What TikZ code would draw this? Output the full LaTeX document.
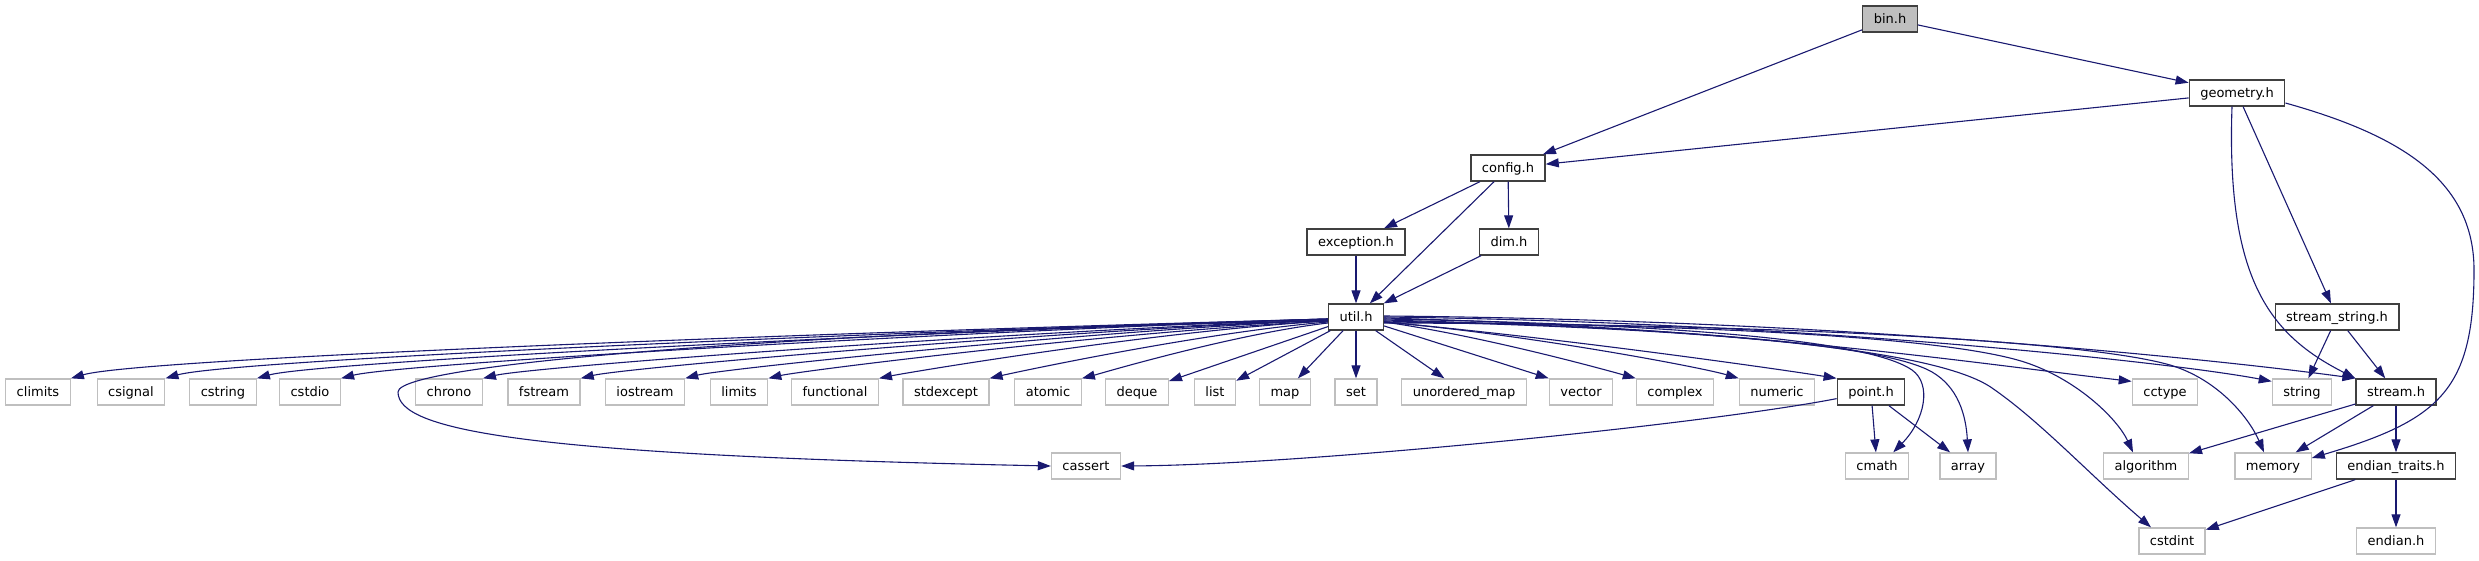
\documentclass[tikz,border=0pt]{standalone}
\usepackage{fontspec}
\setmainfont{DejaVu Sans}
\usetikzlibrary{arrows.meta}
\definecolor{edgeblue}{HTML}{191970}
\definecolor{boxgray}{HTML}{BFBFBF}
\definecolor{boxdark}{HTML}{404040}

\begin{document}
\begin{tikzpicture}[x=1pt, y=1pt, font=\fontsize{13}{15}\selectfont,
    file/.style={draw=boxdark, line width=1.3pt, fill=white, minimum height=26pt,
                 inner xsep=11pt, inner ysep=0pt, text height=11pt, text depth=2.6pt},
    sysfile/.style={file, draw=boxgray},
    edge/.style={draw=edgeblue, line width=1.1pt, -{Triangle[length=13pt,width=9pt]}}]
    \useasboundingbox (0,0) rectangle (2479,560);

    % project headers
    \node[file, fill=boxgray] (bin) at (1890,541) {bin.h};
    \node[file] (geometry) at (2237,467) {geometry.h};
    \node[file] (config) at (1508,392) {config.h};
    \node[file] (exception) at (1356,318) {exception.h};
    \node[file] (dim) at (1509,318) {dim.h};
    \node[file] (util) at (1356,243) {util.h};
    \node[file] (sstring) at (2337,243) {stream\_string.h};
    \node[file] (point) at (1871,168) {point.h};
    \node[file] (stream) at (2396,168) {stream.h};
    \node[file] (etraits) at (2396,94) {endian\_traits.h};

    % system headers
    \node[sysfile] (climits) at (38,168) {climits};
    \node[sysfile] (csignal) at (131,168) {csignal};
    \node[sysfile] (cstring) at (223,168) {cstring};
    \node[sysfile] (cstdio) at (310,168) {cstdio};
    \node[sysfile] (chrono) at (449,168) {chrono};
    \node[sysfile] (fstream) at (544,168) {fstream};
    \node[sysfile] (iostream) at (645,168) {iostream};
    \node[sysfile] (limits) at (739,168) {limits};
    \node[sysfile] (functional) at (835,168) {functional};
    \node[sysfile] (stdexcept) at (946,168) {stdexcept};
    \node[sysfile] (atomic) at (1048,168) {atomic};
    \node[sysfile] (deque) at (1137,168) {deque};
    \node[sysfile] (list) at (1215,168) {list};
    \node[sysfile] (map) at (1285,168) {map};
    \node[sysfile] (set) at (1356,168) {set};
    \node[sysfile] (umap) at (1464,168) {unordered\_map};
    \node[sysfile] (vector) at (1581,168) {vector};
    \node[sysfile] (complex) at (1675,168) {complex};
    \node[sysfile] (numeric) at (1777,168) {numeric};
    \node[sysfile] (cctype) at (2165,168) {cctype};
    \node[sysfile] (string) at (2302,168) {string};
    \node[sysfile] (cassert) at (1086,94) {cassert};
    \node[sysfile] (cmath) at (1877,94) {cmath};
    \node[sysfile] (array) at (1968,94) {array};
    \node[sysfile] (algorithm) at (2146,94) {algorithm};
    \node[sysfile] (memory) at (2273,94) {memory};
    \node[sysfile] (cstdint) at (2172,19) {cstdint};
    \node[sysfile] (endian) at (2396,19) {endian.h};

    % top of the graph
    \draw[edge] (bin) -- (config);
    \draw[edge] (bin) -- (geometry);
    \draw[edge] (geometry) -- (config);
    \draw[edge] (geometry) -- (sstring);
    \draw[edge] ([xshift=-5pt]geometry.south) .. controls (2226,280) and (2270,225) .. (stream.north west);
    \draw[edge] ([yshift=-10pt]geometry.east) .. controls (2400,425) and (2474,380) .. (2474,290)
        .. controls (2474,170) and (2440,140) .. ([yshift=8pt]memory.east);
    \draw[edge] (config) -- (exception);
    \draw[edge] (config) -- (dim);
    \draw[edge] (config) -- (util);
    \draw[edge] (exception) -- (util);
    \draw[edge] (dim) -- (util);

    % util.h to the left
    \draw[edge] ([yshift=-2pt]util.west) .. controls (838,228) and (141,202) .. (climits.north east);
    \draw[edge] ([yshift=-2pt]util.west) .. controls (875,228) and (230,200) .. (csignal.north east);
    \draw[edge] ([yshift=-2pt]util.west) .. controls (911,228) and (316,198) .. (cstring.north east);
    \draw[edge] ([yshift=-2pt]util.west) .. controls (944,228) and (397,196) .. (cstdio.north east);
    \draw[edge] ([yshift=-3pt]util.west) .. controls (999,228) and (530,193) .. (chrono.north east);
    \draw[edge] ([yshift=-3pt]util.west) .. controls (1037,228) and (624,192) .. (fstream.north east);
    \draw[edge] ([yshift=-3pt]util.west) .. controls (1078,228) and (721,191) .. (iostream.north east);
    \draw[edge] ([yshift=-4pt]util.west) .. controls (1110,228) and (800,189) .. (limits.north east);
    \draw[edge] ([yshift=-4pt]util.west) .. controls (1154,229) and (905,187) .. (functional.north east);
    \draw[edge] ([yshift=-5pt]util.west) .. controls (1197,227) and (1008,186) .. (stdexcept.north east);
    \draw[edge] ([yshift=-6pt]util.west) .. controls (1233,226) and (1095,185) .. (atomic.north east);
    \draw[edge] (util) -- (deque);
    \draw[edge] (util) -- (list);
    \draw[edge] (util) -- (map);
    \draw[edge] (util) -- (set);
    \draw[edge] ([yshift=-4pt]util.west) .. controls (900,232) and (398,200) .. (398,168)
        .. controls (398,130) and (520,105) .. (cassert.west);

    % util.h to the right
    \draw[edge] (util) -- (umap);
    \draw[edge] (util) -- (vector.north west);
    \draw[edge] ([yshift=-5pt]util.east) .. controls (1483,224) and (1606,190) .. (complex.north west);
    \draw[edge] ([yshift=-5pt]util.east) .. controls (1524,226) and (1700,193) .. (numeric.north west);
    \draw[edge] ([yshift=-5pt]util.east) .. controls (1562,222) and (1785,190) .. (point.north west);
    \draw[edge] ([yshift=-2pt]util.east) .. controls (1600,237) and (1860,226) .. (1912,190)
        .. controls (1932,176) and (1925,140) .. ([xshift=-16pt]cmath.north east);
    \draw[edge] ([yshift=-3pt]util.east) .. controls (1650,233) and (1880,218) .. (1932,188)
        .. controls (1958,173) and (1966,145) .. (array.north);
    \draw[edge] ([yshift=-4pt]util.east) .. controls (1700,232) and (1935,212) .. (1992,172)
        .. controls (2040,139) and (2090,85) .. ([xshift=-21pt]cstdint.north);
    \draw[edge] ([yshift=-5pt]util.east) .. controls (1750,235) and (1965,220) .. (2030,196)
        .. controls (2080,178) and (2118,140) .. ([xshift=-13pt]algorithm.north);
    \draw[edge] ([yshift=-6pt]util.east) .. controls (1800,236) and (2090,218) .. (2170,195)
        .. controls (2220,180) and (2250,140) .. ([xshift=-9pt]memory.north);
    \draw[edge] ([yshift=-1pt]util.east) .. controls (1750,232) and (1980,196) .. ([yshift=-3pt]cctype.north west);
    \draw[edge] (util.east) .. controls (1800,238) and (2170,198) .. ([yshift=-3pt]string.north west);
    \draw[edge] ([yshift=1pt]util.east) .. controls (1850,240) and (2220,200) .. (stream.north west);

    % lower part
    \draw[edge] (point) .. controls (1700,135) and (1300,95) .. (cassert.east);
    \draw[edge] (point) -- (cmath);
    \draw[edge] (point) -- (array);
    \draw[edge] (sstring) -- (string);
    \draw[edge] (sstring) -- (stream);
    \draw[edge] (stream) -- (algorithm);
    \draw[edge] (stream) -- (memory);
    \draw[edge] (stream) -- (etraits);
    \draw[edge] (etraits) -- (cstdint);
    \draw[edge] (etraits) -- (endian);
\end{tikzpicture}
\end{document}
